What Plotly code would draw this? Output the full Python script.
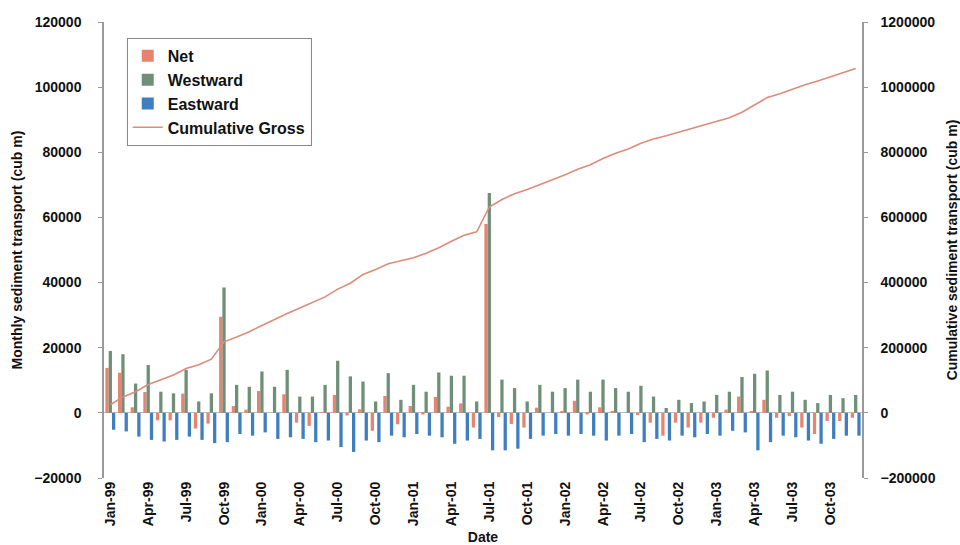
import plotly.graph_objects as go

months = []
for yy in ["99", "00", "01", "02", "03"]:
    for mm in ["Jan", "Feb", "Mar", "Apr", "May", "Jun", "Jul", "Aug", "Sep", "Oct", "Nov", "Dec"]:
        months.append(f"{mm}-{yy}")

westward = [19000, 18000, 9000, 14700, 6500, 6000, 13200, 3500, 6000, 38500, 8600, 8000,
            12700, 8000, 13200, 5000, 5000, 8600, 16000, 11200, 9600, 3500, 12200, 4000,
            8600, 6500, 12400, 11400, 11400, 3500, 67500, 10200, 7600, 3500, 8600, 6500,
            7600, 10200, 6500, 10200, 7600, 6500, 8300, 5000, 1500, 4000, 3000, 3500,
            5500, 6500, 11000, 12000, 13000, 5500, 6500, 4000, 3000, 5500, 4500, 5500]

eastward = [-5200, -5700, -7300, -8300, -8800, -8300, -7300, -8300, -9300, -9000, -6500, -7000,
            -6000, -8000, -7500, -8000, -9000, -8500, -10500, -12000, -8500, -9000, -7000, -7500,
            -6500, -7000, -7500, -9500, -8500, -8000, -11500, -11500, -11000, -8000, -7000, -6500,
            -7000, -6500, -7000, -8500, -7000, -6500, -9000, -8000, -8500, -7000, -7500, -6500,
            -7000, -5500, -6000, -11500, -9000, -7000, -7500, -8500, -9500, -8000, -7000, -7000]

net = [13800, 12300, 1700, 6400, -2300, -2300, 5900, -4800, -3300, 29500, 2100, 1000,
       6700, 0, 5700, -3000, -4000, 100, 5500, -800, 1100, -5500, 5200, -3500,
       2100, -500, 4900, 1900, 2900, -4500, 58000, -1300, -3400, -4500, 1600, 0,
       600, 3700, -500, 1700, 600, 0, -700, -3000, -7000, -3000, -4500, -3000,
       -1500, 1000, 5000, 500, 4000, -1500, -1000, -4500, -6500, -2500, -2500, -1500]

cumulative_gross = [25000, 49000, 65000, 87000, 102000, 116000, 136000, 148000, 165000, 218000, 233000, 249000,
                    268000, 287000, 305000, 322000, 338000, 356000, 380000, 398000, 425000, 440000, 458000, 466000,
                    476000, 490000, 507000, 527000, 545000, 556000, 632000, 655000, 673000, 686000, 702000, 716000,
                    731000, 748000, 762000, 781000, 797000, 810000, 828000, 841000, 851000, 862000, 872000, 882000,
                    894000, 906000, 923000, 946000, 968000, 980000, 994000, 1007000, 1019000, 1032000, 1044000, 1057000]

x = list(range(len(months)))
tick_idx = list(range(0, len(months), 3))
tick_text = [months[i] for i in tick_idx]

FAM = "Liberation Sans, Arial, sans-serif"
tickf = dict(family=FAM, size=14, color="#111111", weight="bold")
titlef = dict(family=FAM, size=14, color="#111111", weight="bold")

fig = go.Figure()
fig.add_trace(go.Bar(x=x, y=net, name="Net", legendgroup="a",
                     marker=dict(color="#E8836F", line=dict(width=0))))
fig.add_trace(go.Bar(x=x, y=westward, name="Westward", legendgroup="b",
                     marker=dict(color="#6F8F78", line=dict(width=0))))
fig.add_trace(go.Bar(x=x, y=eastward, name="Eastward", legendgroup="c",
                     marker=dict(color="#3F7FBF", line=dict(width=0))))
fig.add_trace(go.Scatter(x=x, y=cumulative_gross, name="Cumulative Gross", mode="lines", legendgroup="d",
                         line=dict(color="#DB8C7C", width=1.6), yaxis="y2"))

fig.update_layout(
    width=960, height=545,
    margin=dict(l=104, r=98, t=22, b=67),
    paper_bgcolor="white", plot_bgcolor="white",
    barmode="group", bargap=0.22, bargroupgap=0,
    font=tickf,
    showlegend=True,
    legend=dict(x=0.030, y=0.965, xanchor="left", yanchor="top",
                bordercolor="#888888", borderwidth=1, bgcolor="white",
                font=dict(family=FAM, size=16, color="#111111", weight="bold"),
                tracegroupgap=0, itemwidth=30),
    xaxis=dict(range=[-0.5, 59.5], tickmode="array", tickvals=tick_idx, ticktext=tick_text,
               tickangle=-90, showgrid=False, zeroline=False, showline=False,
               ticks="", tickfont=tickf, automargin=False,
               title=dict(text="Date", font=titlef, standoff=9)),
    yaxis=dict(range=[-20000, 120000], dtick=20000, tickformat="d", showgrid=False,
               zeroline=True, zerolinecolor="#bbbbbb", zerolinewidth=1,
               showline=True, linecolor="#999999", linewidth=1.5,
               ticks="outside", ticklen=4, tickcolor="#999999", tickfont=tickf,
               ticklabelstandoff=14, automargin=False,
               title=dict(text="Monthly sediment transport (cub m)", font=titlef, standoff=8)),
    yaxis2=dict(range=[-200000, 1200000], dtick=200000, tickformat="d", overlaying="y", side="right",
                showgrid=False, zeroline=False, showline=True, linecolor="#999999", linewidth=1.5,
                ticks="outside", ticklen=4, tickcolor="#999999", tickfont=tickf,
                ticklabelstandoff=10, automargin=False,
                title=dict(text="Cumulative sediment transport (cub m)", font=titlef, standoff=13)),
)

fig.write_html("out.html")
